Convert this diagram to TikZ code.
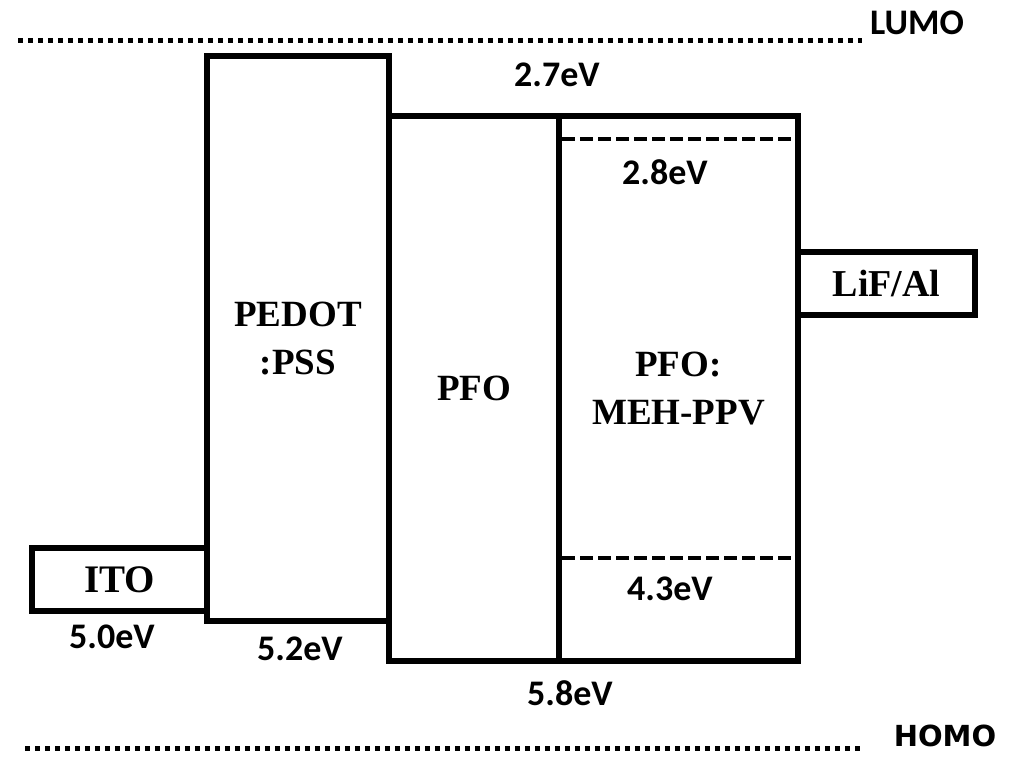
\documentclass[tikz,border=0pt]{standalone}
\usepackage{fontspec}
\setmainfont{Liberation Serif}
\newfontfamily\evfont{Carlito}
\newfontfamily\homofont{DejaVu Sans}
\begin{document}
\begin{tikzpicture}[x=1pt,y=-1pt,
  layer/.style={draw=black,line width=6pt,rectangle,inner sep=0pt,outer sep=0pt,
    font=\bfseries\fontsize{37}{48}\selectfont,align=center},
  evlabel/.style={anchor=base,inner sep=0pt,font=\evfont\bfseries\fontsize{36}{40}\selectfont},
  levelline/.style={line width=5pt,dash pattern=on 5pt off 5pt},
  dashline/.style={line width=4pt,dash pattern=on 13pt off 5pt}]
\useasboundingbox (0,0) rectangle (1010,759);
\fill[white] (0,0) rectangle (1010,759);
% boxes
\node[layer,minimum width=182pt,minimum height=565pt] (pedot) at (298,338.5) {PEDOT\\:PSS};
\node[layer,minimum width=170pt,minimum height=545pt] (pfo) at (474,388.5) {PFO};
\node[layer,minimum width=239pt,minimum height=545pt] (meh) at (678.5,388.5) {PFO:\\MEH-PPV};
\node[layer,minimum width=175pt,minimum height=63pt,font=\bfseries\fontsize{39}{44}\selectfont] (ito) at (119.5,579.5) {ITO};
\node[layer,minimum width=177pt,minimum height=63pt,font=\bfseries\fontsize{38}{44}\selectfont] (lif) at (886.5,283.5) {LiF/Al};
% dashed levels in blend layer
\coordinate (d1a) at (562,139);
\coordinate (d1b) at (796,139);
\coordinate (d2a) at (562,558);
\coordinate (d2b) at (796,558);
\draw[dashline] (d1a) -- (d1b);
\draw[dashline] (d2a) -- (d2b);
% vacuum lines
\coordinate (lumoa) at (18,41);
\coordinate (lumob) at (862,41);
\coordinate (homoa) at (25,748);
\coordinate (homob) at (862,748);
\draw[levelline] (lumoa) -- (lumob);
\draw[levelline] (homoa) -- (homob);
\node[evlabel] (lumo) at (917,35) {LUMO};
\node[anchor=base,inner sep=0pt,font=\homofont\bfseries\fontsize{29}{32}\selectfont] (homo) at (945,746) {HOMO};
% energy labels
\node[evlabel] (e27) at (557,87) {2.7eV};
\node[evlabel] (e28) at (665,185) {2.8eV};
\node[evlabel] (e43) at (670,600) {4.3eV};
\node[evlabel] (e58) at (570,705) {5.8eV};
\node[evlabel] (e50) at (112,648) {5.0eV};
\node[evlabel] (e52) at (300,660) {5.2eV};
\end{tikzpicture}
\end{document}
